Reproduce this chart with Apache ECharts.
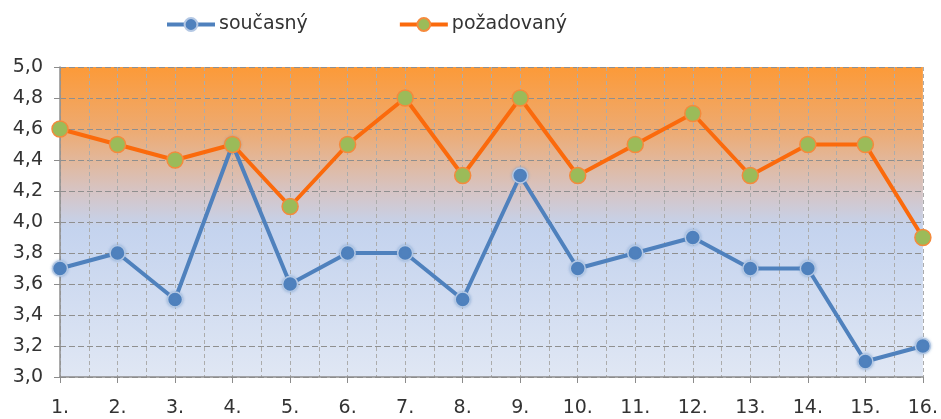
<!DOCTYPE html>
<html>
<head>
<meta charset="utf-8">
<script src="https://cdn.jsdelivr.net/npm/echarts@6/dist/echarts.min.js"></script>
<style>
  html, body { margin: 0; padding: 0; background: #fff; }
  #chart { width: 941px; height: 419px; }
</style>
</head>
<body>
<div id="chart"></div>
<script>
// hodnoty
const categories = ['1.', '2.', '3.', '4.', '5.', '6.', '7.', '8.', '9.', '10.', '11.', '12.', '13.', '14.', '15.', '16.'];
const soucasny = [3.7, 3.8, 3.5, 4.5, 3.6, 3.8, 3.8, 3.5, 4.3, 3.7, 3.8, 3.9, 3.7, 3.7, 3.1, 3.2];
const pozadovany = [4.6, 4.5, 4.4, 4.5, 4.1, 4.5, 4.8, 4.3, 4.8, 4.3, 4.5, 4.7, 4.3, 4.5, 4.5, 3.9];

const font = 'DejaVu Sans, Verdana, sans-serif';
const chart = echarts.init(document.getElementById('chart'));

chart.setOption({
  animation: false,
  textStyle: { fontFamily: font },
  legend: {
    top: 10,
    left: 160,
    itemGap: 90,
    itemWidth: 48,
    itemHeight: 16,
    lineStyle: { width: 4 },
    textStyle: { fontSize: 19, color: '#333', fontFamily: font, padding: [0, 0, 0, -1] },
    data: ['současný', 'požadovaný']
  },
  grid: {
    left: 60,
    right: 16,
    top: 67,
    bottom: 42,
    show: true,
    borderWidth: 0,
    backgroundColor: new echarts.graphic.LinearGradient(0, 0, 0, 1, [
      { offset: 0, color: '#fc9a38' },
      { offset: 0.2, color: '#eeaa70' },
      { offset: 0.4, color: '#d6c4c4' },
      { offset: 0.52, color: '#c4d3ee' },
      { offset: 1, color: '#e0e7f4' }
    ])
  },
  xAxis: [
    {
      type: 'category',
      data: categories,
      boundaryGap: false,
      axisLine: { lineStyle: { color: '#8c8c8c', width: 1.5 } },
      axisTick: { show: true, length: 6, lineStyle: { color: '#8c8c8c' } },
      axisLabel: { fontSize: 19, color: '#333', margin: 22, fontFamily: font },
      splitLine: { show: false }
    },
    {
      // pomocná osa jen pro svislou mřížku po půlkách
      type: 'value',
      min: 0,
      max: 15,
      interval: 0.5,
      show: true,
      position: 'bottom',
      axisLine: { show: false },
      axisTick: { show: false },
      axisLabel: { show: false },
      splitLine: { show: true, lineStyle: { color: '#acacac', type: [4, 3], width: 1 } }
    }
  ],
  yAxis: {
    type: 'value',
    min: 3,
    max: 5,
    interval: 0.2,
    axisLine: { show: true, lineStyle: { color: '#8c8c8c', width: 1.5 } },
    axisTick: { show: true, length: 6, lineStyle: { color: '#8c8c8c' } },
    axisLabel: {
      fontSize: 19,
      color: '#333',
      margin: 17,
      fontFamily: font,
      formatter: v => v.toFixed(1).replace('.', ',')
    },
    splitLine: { show: true, lineStyle: { color: '#8f8f8f', type: [6, 3], width: 1.2 } }
  },
  series: [
    {
      name: 'současný',
      type: 'line',
      data: soucasny,
      symbol: 'circle',
      symbolSize: 15,
      lineStyle: { color: '#4f81bd', width: 4 },
      itemStyle: {
        color: '#4f81bd',
        borderColor: '#b4c8e4',
        borderWidth: 1.5,
        shadowBlur: 3,
        shadowColor: 'rgba(79,129,189,0.4)'
      },
      z: 3
    },
    {
      name: 'požadovaný',
      type: 'line',
      data: pozadovany,
      symbol: 'circle',
      symbolSize: 16,
      lineStyle: { color: '#fb6a0c', width: 4 },
      itemStyle: {
        color: '#9bbb59',
        borderColor: '#f58a3c',
        borderWidth: 1.5
      },
      z: 4
    }
  ]
});
</script>
</body>
</html>
